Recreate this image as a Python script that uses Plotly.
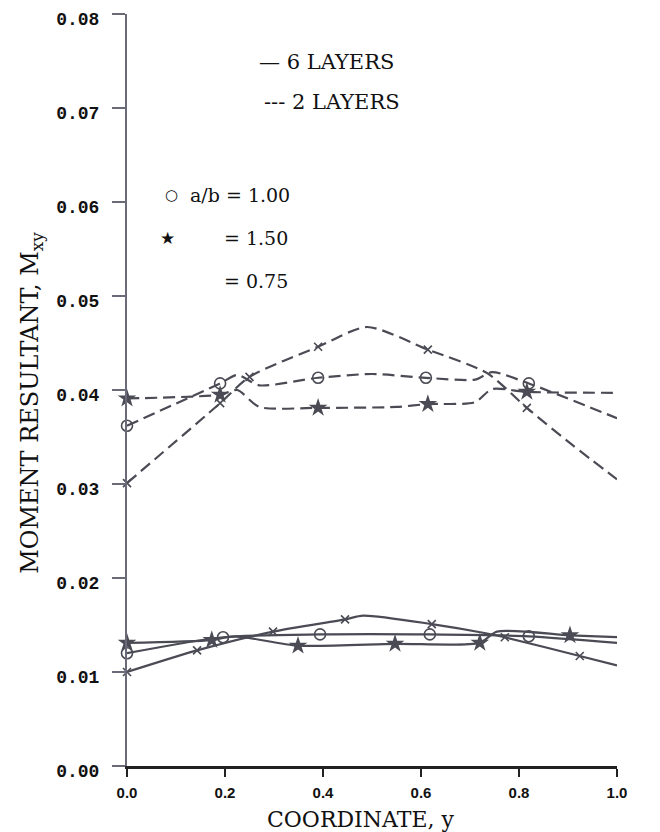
import plotly.graph_objects as go

# ---------------- data ----------------
# 2 LAYERS (dashed) curves
x_d100 = [0.0, 0.19, 0.225, 0.27, 0.39, 0.50, 0.61, 0.71, 0.745, 0.82, 1.0]
y_d100 = [0.0362, 0.0407, 0.0416, 0.0405, 0.0413, 0.0417, 0.0413, 0.0411, 0.0419, 0.0407, 0.0370]
mx_d100 = [0.0, 0.19, 0.39, 0.61, 0.82]
my_d100 = [0.0362, 0.0407, 0.0413, 0.0413, 0.0407]

x_d150 = [0.0, 0.19, 0.225, 0.27, 0.39, 0.55, 0.614, 0.71, 0.745, 0.816, 1.0]
y_d150 = [0.0391, 0.0395, 0.0400, 0.0382, 0.0381, 0.0382, 0.0385, 0.0387, 0.0401, 0.0398, 0.0397]
mx_d150 = [0.0, 0.19, 0.39, 0.614, 0.816]
my_d150 = [0.0391, 0.0395, 0.0381, 0.0385, 0.0398]

x_d075 = [0.0, 0.19, 0.25, 0.39, 0.49, 0.614, 0.735, 0.816, 0.91, 1.0]
y_d075 = [0.0301, 0.0386, 0.0414, 0.0446, 0.0467, 0.0443, 0.0418, 0.0381, 0.0341, 0.0305]
mx_d075 = [0.0, 0.19, 0.25, 0.39, 0.614, 0.816]
my_d075 = [0.0301, 0.0386, 0.0414, 0.0446, 0.0443, 0.0381]

# 6 LAYERS (solid) curves
x_s100 = [0.0, 0.196, 0.394, 0.618, 0.82, 1.0]
y_s100 = [0.0120, 0.0137, 0.0140, 0.0140, 0.0138, 0.0131]
mx_s100 = [0.0, 0.196, 0.394, 0.618, 0.82]
my_s100 = [0.0120, 0.0137, 0.0140, 0.0140, 0.0138]

x_s150 = [0.0, 0.173, 0.22, 0.349, 0.547, 0.72, 0.755, 0.904, 1.0]
y_s150 = [0.0131, 0.0134, 0.0138, 0.0128, 0.0130, 0.0131, 0.0143, 0.0139, 0.0137]
mx_s150 = [0.0, 0.173, 0.349, 0.547, 0.72, 0.904]
my_s150 = [0.0131, 0.0134, 0.0128, 0.0130, 0.0131, 0.0139]

x_s075 = [0.0, 0.143, 0.298, 0.445, 0.482, 0.622, 0.735, 0.771, 0.924, 1.0]
y_s075 = [0.0100, 0.0123, 0.0143, 0.0156, 0.0160, 0.0151, 0.0141, 0.0137, 0.0117, 0.0107]
mx_s075 = [0.0, 0.143, 0.298, 0.445, 0.622, 0.771, 0.924]
my_s075 = [0.0100, 0.0123, 0.0143, 0.0156, 0.0151, 0.0137, 0.0117]

x_ticks = [0.0, 0.2, 0.4, 0.6, 0.8, 1.0]
x_ticklabels = ["0.0", "0.2", "0.4", "0.6", "0.8", "1.0"]
y_ticks = [0.00, 0.01, 0.02, 0.03, 0.04, 0.05, 0.06, 0.07, 0.08]
y_ticklabels = ["0.00", "0.01", "0.02", "0.03", "0.04", "0.05", "0.06", "0.07", "0.08"]

# ---------------- figure ----------------
LC = "#4b4b55"
fig = go.Figure()

def add_curve(x, y, dash):
    fig.add_trace(go.Scatter(x=x, y=y, mode="lines",
                             line=dict(color=LC, width=2.2, dash=dash, shape="spline", smoothing=0.7),
                             cliponaxis=False, showlegend=False, hoverinfo="skip"))

def add_markers(x, y, kind):
    if kind == "circle":
        m = dict(symbol="circle-open", size=11, color=LC, line=dict(width=1.6, color=LC))
    elif kind == "star":
        m = dict(symbol="star", size=14, color=LC, line=dict(width=0))
    else:
        m = dict(symbol="x-thin-open", size=8, color=LC, line=dict(width=1.6, color=LC))
    fig.add_trace(go.Scatter(x=x, y=y, mode="markers", marker=m,
                             cliponaxis=False, showlegend=False))

dd = "12px,6px"
add_curve(x_d100, y_d100, dd); add_markers(mx_d100, my_d100, "circle")
add_curve(x_d150, y_d150, dd); add_markers(mx_d150, my_d150, "star")
add_curve(x_d075, y_d075, dd); add_markers(mx_d075, my_d075, "x")
add_curve(x_s100, y_s100, "solid"); add_markers(mx_s100, my_s100, "circle")
add_curve(x_s150, y_s150, "solid"); add_markers(mx_s150, my_s150, "star")
add_curve(x_s075, y_s075, "solid"); add_markers(mx_s075, my_s075, "x")

serif = "DejaVu Serif"
txt = "#111111"
ann = [
    dict(text="— 6 LAYERS", x=0.265, y=0.936, size=21),
    dict(text="--- 2 LAYERS", x=0.276, y=0.883, size=21),
    dict(text="○", x=0.074, y=0.759, size=15),
    dict(text="a/b = 1.00", x=0.124, y=0.759, size=19),
    dict(text="★", x=0.064, y=0.702, size=17),
    dict(text="= 1.50", x=0.194, y=0.702, size=19),
    dict(text="= 0.75", x=0.194, y=0.645, size=19),
]
for a in ann:
    fig.add_annotation(xref="paper", yref="paper", showarrow=False, yanchor="middle",
                       xanchor="left", x=a["x"], y=a["y"], text=a["text"],
                       font=dict(family=serif, size=a["size"], color=txt))

fig.add_annotation(xref="paper", yref="paper", x=0.476, y=-0.071, showarrow=False,
                   text="COORDINATE, y", font=dict(family=serif, size=22, color=txt),
                   xanchor="center", yanchor="middle")
fig.add_annotation(xref="paper", yref="paper", x=-0.194, y=0.483, showarrow=False,
                   text="MOMENT RESULTANT, M<sub>xy</sub>", textangle=-90,
                   font=dict(family=serif, size=24, color=txt),
                   xanchor="center", yanchor="middle")

fig.update_layout(
    width=652, height=824,
    margin=dict(l=119, r=43, t=6, b=66),
    paper_bgcolor="white", plot_bgcolor="white",
    xaxis=dict(range=[0, 1.0], tickvals=x_ticks, ticktext=x_ticklabels, automargin=False,
               showgrid=False, zeroline=False, showline=True, linecolor="#222",
               linewidth=2.5, ticks="outside", ticklen=8, tickwidth=2, tickcolor="#222",
               ticklabelstandoff=3, ticklabeloverflow="allow",
               tickfont=dict(family="Liberation Sans", size=15, color="#111", weight="bold"),
               ),
    yaxis=dict(range=[0, 0.08], tickvals=y_ticks, ticktext=y_ticklabels, automargin=False,
               showgrid=False, zeroline=False, showline=True, linecolor="#6a6a78",
               linewidth=2, ticks="outside", ticklen=13, tickwidth=1.5, tickcolor="#6a6a78",
               ticklabelstandoff=9, ticklabeloverflow="allow", ticklabelshift=5,
               tickfont=dict(family="Liberation Mono", size=18, color="#111", weight="bold"),
               ),
)

fig.write_html("out.html")
